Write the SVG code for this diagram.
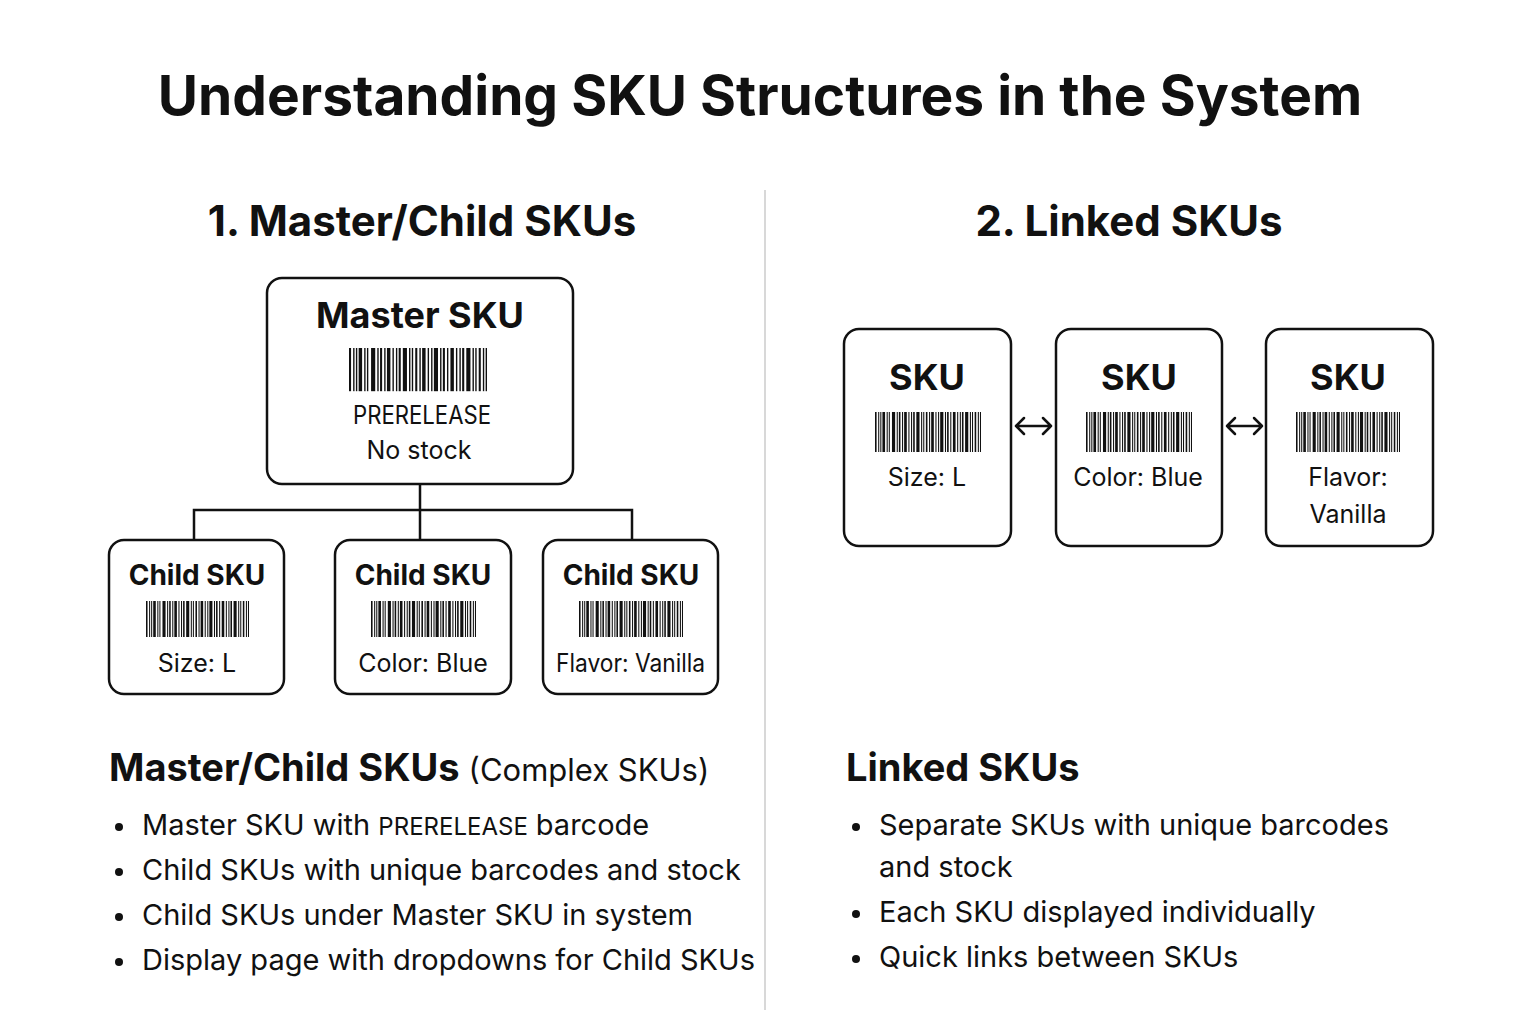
<svg xmlns="http://www.w3.org/2000/svg" width="1536" height="1024" viewBox="0 0 1536 1024">
<style>
text{font-family:Inter,"Liberation Sans",sans-serif;fill:#111;}
.title{font-size:55px;font-weight:700;}
.h2{font-size:42px;font-weight:700;}
.box{fill:#fff;stroke:#111;stroke-width:2.5;}
.mtitle{font-size:36px;font-weight:700;}
.ctitle{font-size:28px;font-weight:700;}
.stitle{font-size:36px;font-weight:700;}
.lbl{font-size:25px;}
.mlbl{font-size:25px;}
.h3{font-size:38px;font-weight:700;}
.h3s{font-size:31px;font-weight:400;}
.bul{font-size:29px;}
.small{font-size:24px;}
.conn{fill:none;stroke:#111;stroke-width:2.5;}
.arr{fill:none;stroke:#111;stroke-width:2.5;stroke-linecap:round;stroke-linejoin:round;}
</style>
<defs>
<g id="barcode" fill="#111">
<rect x="0" y="0" width="1.5" height="40"/><rect x="3" y="0" width="1" height="40"/><rect x="5" y="0" width="1" height="40"/><rect x="7" y="0" width="2.5" height="40"/><rect x="11" y="0" width="1" height="40"/><rect x="13" y="0" width="1" height="40"/><rect x="16" y="0" width="3" height="40"/><rect x="20.5" y="0" width="1" height="40"/><rect x="22.5" y="0" width="1.5" height="40"/><rect x="25.5" y="0" width="1" height="40"/><rect x="27.5" y="0" width="2.5" height="40"/><rect x="31.5" y="0" width="1" height="40"/><rect x="34" y="0" width="1" height="40"/><rect x="36" y="0" width="1.5" height="40"/><rect x="39" y="0" width="3" height="40"/><rect x="43.5" y="0" width="1" height="40"/><rect x="45.5" y="0" width="1" height="40"/><rect x="48" y="0" width="1.5" height="40"/><rect x="51" y="0" width="1" height="40"/><rect x="53" y="0" width="2.5" height="40"/><rect x="57" y="0" width="1" height="40"/><rect x="59.5" y="0" width="1" height="40"/><rect x="61.5" y="0" width="3" height="40"/><rect x="66" y="0" width="1" height="40"/><rect x="68" y="0" width="1.5" height="40"/><rect x="71" y="0" width="1" height="40"/><rect x="73.5" y="0" width="2.5" height="40"/><rect x="77.5" y="0" width="1" height="40"/><rect x="80" y="0" width="1" height="40"/><rect x="82" y="0" width="1.5" height="40"/><rect x="85" y="0" width="3" height="40"/><rect x="89.5" y="0" width="1" height="40"/><rect x="91.5" y="0" width="1" height="40"/><rect x="94" y="0" width="1.5" height="40"/><rect x="97" y="0" width="1" height="40"/><rect x="99" y="0" width="1" height="40"/>
</g>
</defs>
<rect width="1536" height="1024" fill="#fff"/>
<text class="title" x="760" y="115" text-anchor="middle">Understanding SKU Structures in the System</text>
<line x1="765" y1="190" x2="765" y2="1010" stroke="#d8d8d8" stroke-width="2"/>
<text class="h2" x="422" y="236" text-anchor="middle">1. Master/Child SKUs</text>
<text class="h2" x="1129" y="236" text-anchor="middle">2. Linked SKUs</text>

<g id="connectors">
<path class="conn" d="M420 484 V510 M194 540 V510 H632 V540 M420 510 V540"/>
<path class="arr" d="M1016 426 H1051 M1024 418 L1016 426 L1024 434 M1043 418 L1051 426 L1043 434"/>
<path class="arr" d="M1227 426 H1262 M1235 418 L1227 426 L1235 434 M1254 418 L1262 426 L1254 434"/>
</g>

<g id="master">
<rect class="box" x="267" y="278" width="306" height="206" rx="15"/>
<text class="mtitle" x="420" y="328" text-anchor="middle">Master SKU</text>
<use href="#barcode" transform="translate(349,348) scale(1.38,1.08)"/>
<text class="mlbl" x="353" y="424" textLength="138" lengthAdjust="spacingAndGlyphs">PRERELEASE</text>
<text class="mlbl" x="419" y="459" text-anchor="middle">No stock</text>
</g>

<g id="child1">
<rect class="box" x="109" y="540" width="175" height="154" rx="15"/>
<text class="ctitle" x="197" y="585" text-anchor="middle">Child SKU</text>
<use href="#barcode" transform="translate(146,601) scale(1.03,0.9)"/>
<text class="lbl" x="197" y="672" text-anchor="middle">Size: L</text>
</g>
<g id="child2">
<rect class="box" x="335" y="540" width="176" height="154" rx="15"/>
<text class="ctitle" x="423" y="585" text-anchor="middle">Child SKU</text>
<use href="#barcode" transform="translate(371,601) scale(1.05,0.9)"/>
<text class="lbl" x="423" y="672" text-anchor="middle">Color: Blue</text>
</g>
<g id="child3">
<rect class="box" x="543" y="540" width="175" height="154" rx="15"/>
<text class="ctitle" x="631" y="585" text-anchor="middle">Child SKU</text>
<use href="#barcode" transform="translate(579,601) scale(1.04,0.9)"/>
<text class="lbl" x="556" y="672" textLength="149" lengthAdjust="spacingAndGlyphs">Flavor: Vanilla</text>
</g>

<g id="linked1">
<rect class="box" x="844" y="329" width="167" height="217" rx="15"/>
<text class="stitle" x="927" y="390" text-anchor="middle">SKU</text>
<use href="#barcode" transform="translate(875,412) scale(1.06,1.0)"/>
<text class="lbl" x="927" y="486" text-anchor="middle">Size: L</text>
</g>
<g id="linked2">
<rect class="box" x="1056" y="329" width="166" height="217" rx="15"/>
<text class="stitle" x="1139" y="390" text-anchor="middle">SKU</text>
<use href="#barcode" transform="translate(1086,412) scale(1.06,1.0)"/>
<text class="lbl" x="1138" y="486" text-anchor="middle">Color: Blue</text>
</g>
<g id="linked3">
<rect class="box" x="1266" y="329" width="167" height="217" rx="15"/>
<text class="stitle" x="1348" y="390" text-anchor="middle">SKU</text>
<use href="#barcode" transform="translate(1296,412) scale(1.04,1.0)"/>
<text class="lbl" x="1348" y="486" text-anchor="middle">Flavor:</text>
<text class="lbl" x="1348" y="523" text-anchor="middle">Vanilla</text>
</g>

<g id="left-notes">
<text x="109" y="781"><tspan class="h3">Master/Child SKUs </tspan><tspan class="h3s">(Complex SKUs)</tspan></text>
<g fill="#111"><circle cx="119" cy="827" r="4"/><circle cx="119" cy="872" r="4"/><circle cx="119" cy="917" r="4"/><circle cx="119" cy="962" r="4"/></g>
<text class="bul" x="142" y="835">Master SKU with <tspan class="small">PRERELEASE</tspan><tspan dx="8">barcode</tspan></text>
<text class="bul" x="142" y="880">Child SKUs with unique barcodes and stock</text>
<text class="bul" x="142" y="925">Child SKUs under Master SKU in system</text>
<text class="bul" x="142" y="970">Display page with dropdowns for Child SKUs</text>
</g>

<g id="right-notes">
<text class="h3" x="846" y="781" font-size="39">Linked SKUs</text>
<g fill="#111"><circle cx="856" cy="827" r="4"/><circle cx="856" cy="914" r="4"/><circle cx="856" cy="959" r="4"/></g>
<text class="bul" x="879" y="835">Separate SKUs with unique barcodes</text>
<text class="bul" x="879" y="877">and stock</text>
<text class="bul" x="879" y="922">Each SKU displayed individually</text>
<text class="bul" x="879" y="967">Quick links between SKUs</text>
</g>
</svg>
